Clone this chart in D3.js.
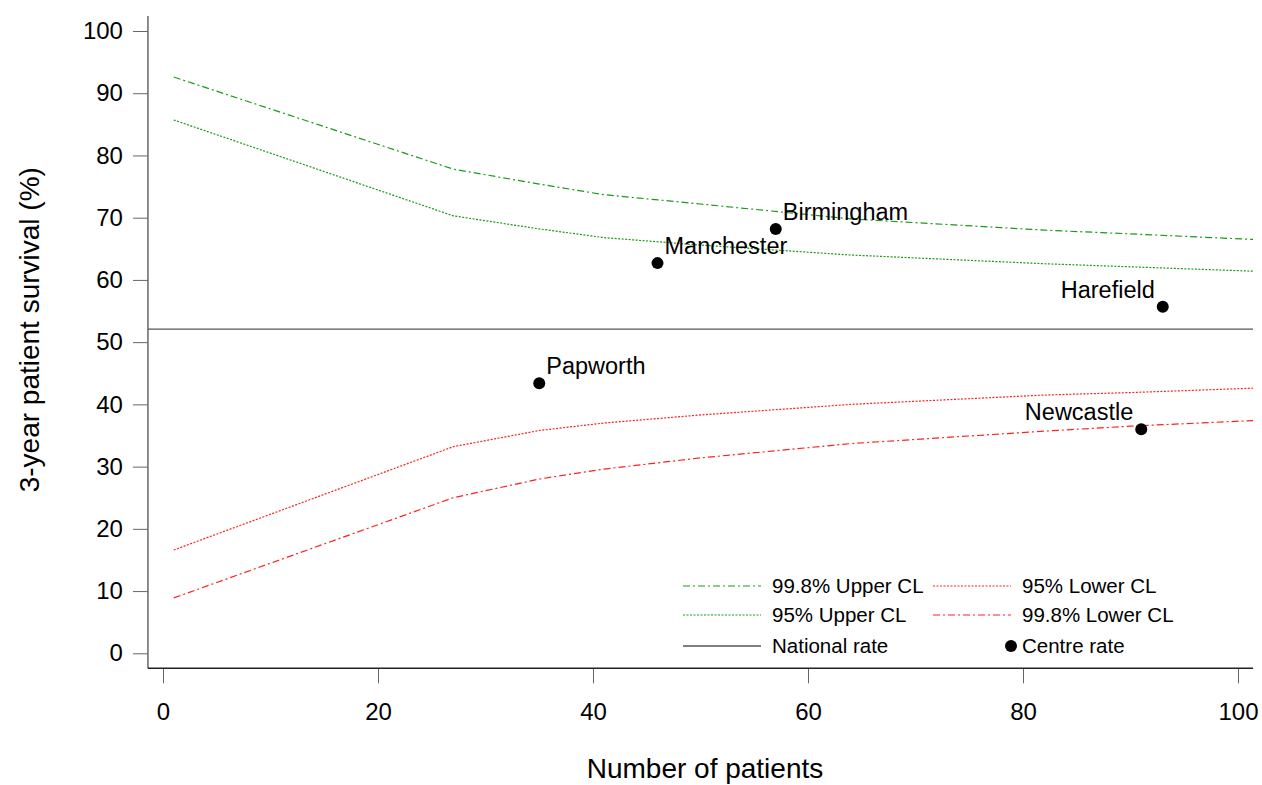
<!DOCTYPE html>
<html>
<head>
<meta charset="utf-8">
<title>Funnel plot</title>
<script src="https://cdn.jsdelivr.net/npm/d3@7"></script>
<style>
	body { margin: 0; background: #fff; }
	svg { font-family: "Liberation Sans", Arial, sans-serif; }
	.tick text { font-size: 24px; fill: #000; }
	.tick line { stroke: #666; }
</style>
</head>
<body>
<div id="chart"></div>
<script>
// control limit curves
const nPatients = [1, 27, 35, 41, 50, 64, 82, 90, 101.4];
const upper998 = [92.6, 77.8, 75.4, 73.7, 72.2, 69.8, 68.0, 67.4, 66.5];
const upper95 = [85.7, 70.3, 68.2, 66.8, 65.6, 64.0, 62.6, 62.1, 61.4];
const lower95 = [16.6, 33.2, 35.8, 37.0, 38.3, 40.0, 41.5, 41.9, 42.6];
const lower998 = [8.9, 25.0, 28.0, 29.6, 31.4, 33.7, 35.7, 36.5, 37.4];

const nationalRate = 52.1;

// centres
const centreNames = ["Papworth", "Manchester", "Birmingham", "Harefield", "Newcastle"];
const centreN = [35, 46, 57, 93, 91];
const centreRate = [43.4, 62.7, 68.2, 55.7, 36.0];

const xTicks = [0, 20, 40, 60, 80, 100];
const yTicks = [0, 10, 20, 30, 40, 50, 60, 70, 80, 90, 100];

const width = 1262, height = 785;

const x = d3.scaleLinear().domain([0, 100]).range([163, 1238]);
const y = d3.scaleLinear().domain([0, 100]).range([653.3, 31]);
const xMin = -1.4, xMax = 101.4, yMin = -2.4, yMax = 102.4;

const svg = d3.select("#chart").append("svg")
	.attr("width", width)
	.attr("height", height);

// axes
svg.append("g")
	.attr("transform", `translate(${x(xMin)},0)`)
	.call(d3.axisLeft(y).tickValues(yTicks).tickSize(15).tickPadding(10))
	.call(g => g.select(".domain").remove());

svg.append("g")
	.attr("transform", `translate(0,${y(yMin)})`)
	.call(d3.axisBottom(x).tickValues(xTicks).tickSize(15).tickPadding(20))
	.call(g => g.select(".domain").remove());

svg.append("line")
	.attr("x1", x(xMin)).attr("x2", x(xMin))
	.attr("y1", y(yMax)).attr("y2", y(yMin))
	.attr("stroke", "#666").attr("stroke-width", 1.5);

svg.append("line")
	.attr("x1", x(xMin)).attr("x2", x(xMax))
	.attr("y1", y(yMin)).attr("y2", y(yMin))
	.attr("stroke", "#222").attr("stroke-width", 1.5);

// axis titles
svg.append("text")
	.attr("x", 705).attr("y", 778)
	.attr("text-anchor", "middle")
	.attr("font-size", 28)
	.text("Number of patients");

svg.append("text")
	.attr("transform", `translate(39,${y(52)}) rotate(-90)`)
	.attr("text-anchor", "middle")
	.attr("font-size", 28)
	.text("3-year patient survival (%)");

// limit lines
const series = [
	{ name: "99.8% Upper CL", values: upper998, color: "#1a9a1a", dash: "7,3,2,3" },
	{ name: "95% Upper CL", values: upper95, color: "#1a9a1a", dash: "2,1.5" },
	{ name: "95% Lower CL", values: lower95, color: "#ff2020", dash: "2,1.5" },
	{ name: "99.8% Lower CL", values: lower998, color: "#ff2020", dash: "7,3,2,3" }
];

const line = d3.line()
	.x((d, i) => x(nPatients[i]))
	.y(d => y(d));

series.forEach(s => {
	svg.append("path")
		.attr("d", line(s.values))
		.attr("fill", "none")
		.attr("stroke", s.color)
		.attr("stroke-width", 1.2)
		.attr("stroke-dasharray", s.dash);
});

svg.append("line")
	.attr("x1", x(xMin)).attr("x2", x(xMax))
	.attr("y1", y(nationalRate)).attr("y2", y(nationalRate))
	.attr("stroke", "#555").attr("stroke-width", 1.2);

// centre points and labels
const centres = centreNames.map((name, i) => ({ name: name, n: centreN[i], rate: centreRate[i] }));

svg.selectAll("circle.centre")
	.data(centres)
	.enter().append("circle")
	.attr("class", "centre")
	.attr("cx", d => x(d.n))
	.attr("cy", d => y(d.rate))
	.attr("r", 6)
	.attr("fill", "#000");

svg.selectAll("text.centre")
	.data(centres)
	.enter().append("text")
	.attr("class", "centre")
	.attr("x", d => d.n > 80 ? x(d.n) - 8 : x(d.n) + 7)
	.attr("y", d => y(d.rate) - 9)
	.attr("text-anchor", d => d.n > 80 ? "end" : "start")
	.attr("font-size", 23.5)
	.text(d => d.name);

// legend
const legendItems = [
	{ label: "99.8% Upper CL", type: "line", s: series[0], col: 0, row: 0 },
	{ label: "95% Upper CL", type: "line", s: series[1], col: 0, row: 1 },
	{ label: "National rate", type: "national", col: 0, row: 2 },
	{ label: "95% Lower CL", type: "line", s: series[2], col: 1, row: 0 },
	{ label: "99.8% Lower CL", type: "line", s: series[3], col: 1, row: 1 },
	{ label: "Centre rate", type: "dot", col: 1, row: 2 }
];
const legendColX = [683, 933];
const legendRowY = [586, 615, 646];

const legend = svg.append("g");
legendItems.forEach(it => {
	const lx = legendColX[it.col], ly = legendRowY[it.row];
	if (it.type === "line") {
		legend.append("line")
			.attr("x1", lx).attr("x2", lx + 78)
			.attr("y1", ly).attr("y2", ly)
			.attr("stroke", it.s.color).attr("stroke-width", 1.2)
			.attr("stroke-dasharray", it.s.dash);
	} else if (it.type === "national") {
		legend.append("line")
			.attr("x1", lx).attr("x2", lx + 78)
			.attr("y1", ly).attr("y2", ly)
			.attr("stroke", "#000").attr("stroke-width", 1.2);
	} else {
		legend.append("circle")
			.attr("cx", lx + 78).attr("cy", ly)
			.attr("r", 6).attr("fill", "#000");
	}
	legend.append("text")
		.attr("x", lx + 89)
		.attr("y", ly + 7)
		.attr("font-size", 20.5)
		.text(it.label);
});
</script>
</body>
</html>
